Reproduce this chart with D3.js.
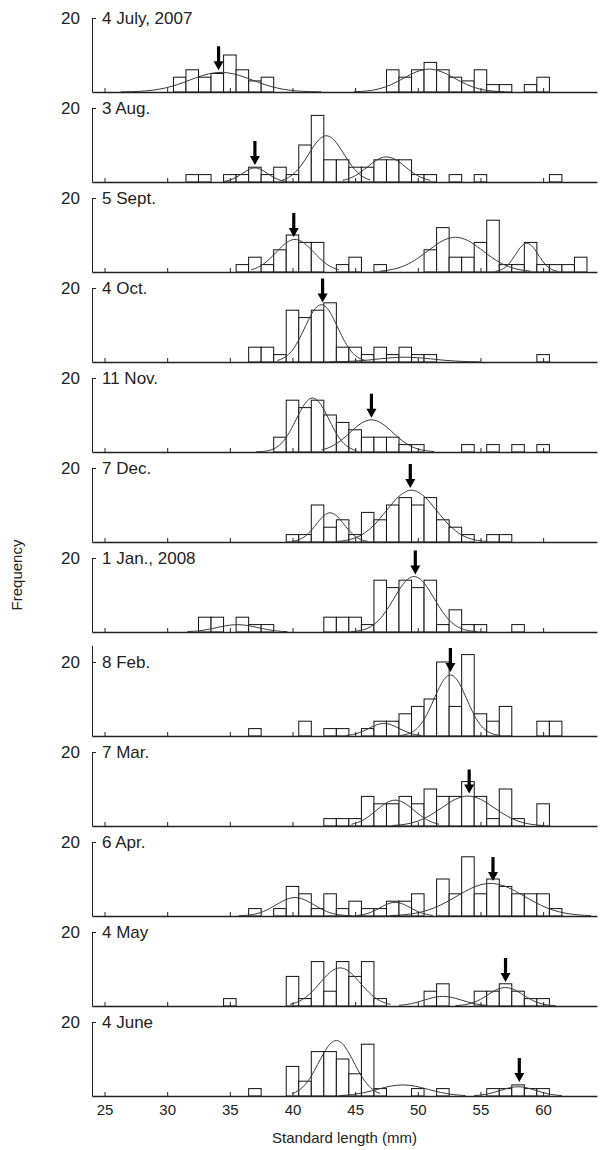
<!DOCTYPE html>
<html>
<head>
<meta charset="utf-8">
<script src="https://cdn.jsdelivr.net/npm/d3@7"></script>
<style>
  body { margin: 0; background: #fff; }
  svg text { font-family: "Liberation Sans", Arial, sans-serif; fill: #222; }
</style>
</head>
<body>
<svg id="chart" width="603" height="1150"></svg>
<script>
const sampleDates = ['4 July, 2007', '3 Aug.', '5 Sept.', '4 Oct.', '11 Nov.', '7 Dec.',
  '1 Jan., 2008', '8 Feb.', '7 Mar.', '6 Apr.', '4 May', '4 June'];

const xTicks = [25, 30, 35, 40, 45, 50, 55, 60];

// [standard length class (mm), number of fish]
const barsJul = [[31,4],[32,6],[33,4],[34,5],[35,10],[36,6],[37,3],[38,4],[48,6],[49,4],[50,6],[51,8],[52,6],[53,4],[54,3],[55,6],[56,2],[57,2],[59,2],[60,4]];
const barsAug = [[32,2],[33,2],[35,2],[36,2],[37,4],[38,2],[39,4],[40,2],[41,10],[42,18],[43,6],[44,6],[45,4],[46,4],[47,6],[48,6],[49,6],[50,2],[51,2],[53,2],[55,2],[61,2]];
const barsSep = [[36,2],[37,4],[38,2],[39,6],[40,10],[41,8],[42,8],[44,2],[45,4],[47,2],[51,6],[52,12],[53,4],[54,4],[55,8],[56,14],[57,2],[58,2],[59,8],[60,2],[61,2],[62,2],[63,4]];
const barsOct = [[37,4],[38,4],[39,2],[40,14],[41,12],[42,14],[43,16],[44,4],[45,4],[46,2],[47,4],[48,2],[49,4],[50,2],[51,2],[60,2]];
const barsNov = [[39,4],[40,14],[41,12],[42,14],[43,10],[44,8],[45,6],[46,4],[47,4],[48,4],[49,2],[50,2],[54,2],[56,2],[58,2],[60,2]];
const barsDec = [[40,2],[41,2],[42,10],[43,4],[44,6],[45,2],[46,8],[47,6],[48,10],[49,12],[50,10],[51,12],[52,6],[53,4],[54,2],[56,2],[57,2]];
const barsJan = [[33,4],[34,4],[36,4],[37,2],[38,2],[43,4],[44,4],[45,4],[46,2],[47,14],[48,12],[49,14],[50,12],[51,14],[52,2],[53,6],[54,2],[55,2],[58,2]];
const barsFeb = [[37,2],[41,4],[43,2],[44,2],[46,2],[47,4],[48,4],[49,6],[50,8],[51,10],[52,20],[53,8],[54,22],[55,6],[56,4],[57,8],[60,4],[61,4]];
const barsMar = [[43,2],[44,2],[45,2],[46,8],[47,6],[48,6],[49,8],[50,6],[51,10],[52,8],[53,8],[54,12],[55,8],[56,2],[57,10],[58,2],[60,6]];
const barsApr = [[37,2],[39,2],[40,8],[41,6],[42,2],[43,6],[44,2],[45,4],[46,2],[47,2],[48,4],[49,4],[50,6],[52,10],[53,6],[54,16],[55,6],[56,10],[57,8],[58,6],[59,6],[60,6],[61,2]];
const barsMay = [[35,2],[40,8],[41,2],[42,12],[43,4],[44,12],[45,8],[46,12],[47,2],[51,4],[52,6],[55,4],[56,4],[57,6],[58,4],[59,2],[60,2]];
const barsJun = [[37,2],[40,8],[41,4],[42,12],[43,12],[44,10],[45,6],[46,14],[47,2],[50,2],[52,2],[56,2],[57,2],[58,3],[59,2],[60,2]];

// fitted cohort curves: first length (mm), step (mm), heights
const fitsJul = [
  { from: 26.3, step: 1, y: [0.03,0.11,0.3,0.72,1.47,2.58,3.85,4.9,5.3,4.9,3.85,2.58,1.47,0.72,0.3,0.11,0.03] },
  { from: 44.9, step: 1, y: [0.07,0.27,0.84,2.02,3.78,5.46,6.2,5.46,3.78,2.02,0.84,0.27,0.07] }
];
const fitsAug = [
  { from: 34.5, step: 0.5, y: [0.17,0.51,1.24,2.31,3.35,3.8,3.35,2.31,1.24,0.51,0.17] },
  { from: 39.2, step: 0.5, y: [0.55,1.26,2.54,4.5,7.04,9.69,11.73,12.5,11.73,9.69,7.04,4.5,2.54,1.26,0.55] },
  { from: 44, step: 0.5, y: [0.45,0.92,1.69,2.79,4.13,5.44,6.43,6.8,6.43,5.44,4.13,2.79,1.69,0.92,0.45] }
];
const fitsSep = [
  { from: 36.7, step: 0.5, y: [0.58,1.19,2.19,3.62,5.34,7.04,8.32,8.8,8.32,7.04,5.34,3.62,2.19,1.19,0.58] },
  { from: 47, step: 1, y: [0.23,0.71,1.8,3.71,6.22,8.48,9.4,8.48,6.22,3.71,1.8,0.71,0.23] },
  { from: 56.2, step: 0.5, y: [0.16,0.66,1.94,4.2,6.68,7.8,6.68,4.2,1.94,0.66,0.16] }
];
const fitsOct = [
  { from: 38.8, step: 0.5, y: [0.42,1.09,2.43,4.74,7.97,11.53,14.4,15.5,14.4,11.53,7.97,4.74,2.43,1.09,0.42] },
  { from: 43, step: 1, y: [0.03,0.1,0.25,0.51,0.86,1.17,1.3,1.17,0.86,0.51,0.25,0.1,0.03] }
];
const fitsNov = [
  { from: 37.1, step: 0.5, y: [0.04,0.13,0.39,1.02,2.29,4.47,7.5,10.86,13.56,14.6,13.56,10.86,7.5,4.47,2.29,1.02,0.39] },
  { from: 42.3, step: 0.5, y: [0.55,1.04,1.84,2.95,4.36,5.9,7.32,8.33,8.7,8.33,7.32,5.9,4.36,2.95,1.84,1.04,0.55,0.26,0.12] }
];
const fitsDec = [
  { from: 40, step: 0.5, y: [0.19,0.6,1.52,3.12,5.23,7.13,7.9,7.13,5.23,3.12,1.52,0.6,0.19] },
  { from: 43.5, step: 1, y: [0.15,0.61,1.89,4.55,8.49,12.35,14,12.35,8.49,4.55,1.89,0.61,0.15] }
];
const fitsJan = [
  { from: 31.6, step: 1, y: [0.09,0.34,0.92,1.65,2,1.65,0.92,0.34,0.09] },
  { from: 44.7, step: 0.5, y: [0.11,0.29,0.66,1.37,2.58,4.43,6.87,9.66,12.35,14.28,15,14.28,12.35,9.66,6.87,4.43,2.58,1.37,0.66,0.29,0.11] }
];
const fitsFeb = [
  { from: 44.3, step: 0.5, y: [0.15,0.39,0.85,1.56,2.4,3.12,3.4,3.12,2.4,1.56,0.85,0.39,0.15] },
  { from: 48.6, step: 0.5, y: [0.15,0.45,1.16,2.59,5.05,8.48,12.28,15.33,16.5,15.33,12.28,8.48,5.05,2.59,1.16,0.45,0.15] }
];
const fitsMar = [
  { from: 44.7, step: 0.5, y: [0.46,0.95,1.74,2.88,4.25,5.6,6.62,7,6.62,5.6,4.25,2.88,1.74,0.95,0.46] },
  { from: 48, step: 1, y: [0.14,0.48,1.32,2.92,5.14,7.23,8.1,7.23,5.14,2.92,1.32,0.48,0.14] }
];
const fitsApr = [
  { from: 35.7, step: 0.5, y: [0.06,0.15,0.33,0.68,1.25,2.06,3.04,4,4.73,5,4.73,4,3.04,2.06,1.25,0.68,0.33,0.15,0.06] },
  { from: 45.2, step: 0.5, y: [0.16,0.42,0.92,1.69,2.62,3.39,3.7,3.39,2.62,1.69,0.92,0.42,0.16] },
  { from: 47.8, step: 1, y: [0.11,0.31,0.75,1.58,2.94,4.74,6.69,8.22,8.8,8.22,6.69,4.74,2.94,1.58,0.75,0.31,0.11] }
];
const fitsMay = [
  { from: 39.8, step: 0.5, y: [0.45,0.94,1.77,3.04,4.72,6.63,8.48,9.81,10.3,9.81,8.48,6.63,4.72,3.04,1.77,0.94,0.45] },
  { from: 48.5, step: 0.5, y: [0.17,0.35,0.65,1.07,1.58,2.08,2.46,2.6,2.46,2.08,1.58,1.07,0.65,0.35,0.17] },
  { from: 53, step: 0.5, y: [0.09,0.22,0.51,1.02,1.8,2.82,3.88,4.69,5,4.69,3.88,2.82,1.8,1.02,0.51,0.22,0.09] }
];
const fitsJun = [
  { from: 40, step: 0.5, y: [0.66,1.52,3.05,5.4,8.45,11.63,14.07,15,14.07,11.63,8.45,5.4,3.05,1.52,0.66] },
  { from: 43.8, step: 1, y: [0.13,0.4,0.98,1.82,2.65,3,2.65,1.82,0.98,0.4,0.13] },
  { from: 54.5, step: 0.5, y: [0.11,0.25,0.51,0.9,1.41,1.94,2.35,2.5,2.35,1.94,1.41,0.9,0.51,0.25,0.11] }
];

// arrowed cohort: length (mm) and height of the arrow tip
const arrowLength = [34.1, 37, 40.1, 42.4, 46.3, 49.4, 49.8, 52.6, 54.1, 56, 57, 58.1];
const arrowHeight = [5.6, 4.3, 9.2, 15.8, 9, 14.3, 15.3, 17, 8.5, 9.2, 6.2, 3.5];

// top of each frequency axis
const panelYMax = [20, 20, 20, 20, 20, 20, 20, 24.5, 20, 20, 20, 20];

const panelBars = [barsJul, barsAug, barsSep, barsOct, barsNov, barsDec, barsJan, barsFeb, barsMar, barsApr, barsMay, barsJun];
const panelFits = [fitsJul, fitsAug, fitsSep, fitsOct, fitsNov, fitsDec, fitsJan, fitsFeb, fitsMar, fitsApr, fitsMay, fitsJun];

const PANEL_H = 74;     // height of 0..20
const FIRST_TOP = 18;
const PANEL_STEP = 90;
const FEB_GAP = 14;

const svg = d3.select('#chart');
const x = d3.scaleLinear().domain([24, 64.3]).range([92, 597]);

sampleDates.forEach((label, i) => {
  const top = FIRST_TOP + i * PANEL_STEP + (i >= 7 ? FEB_GAP : 0);
  const base = top + PANEL_H;
  const yMax = panelYMax[i];
  const y = d3.scaleLinear().domain([0, yMax]).range([base, base - PANEL_H * yMax / 20]);

  const g = svg.append('g');

  // histogram
  g.selectAll('rect').data(panelBars[i]).join('rect')
    .attr('x', d => x(d[0] - 0.5))
    .attr('width', d => x(d[0] + 0.5) - x(d[0] - 0.5))
    .attr('y', d => y(d[1]))
    .attr('height', d => base - y(d[1]))
    .attr('fill', '#fff')
    .attr('stroke', '#111')
    .attr('stroke-width', 1);

  // fitted curves
  const line = d3.line()
    .x(d => x(d[0]))
    .y(d => y(d[1]))
    .curve(d3.curveMonotoneX);

  panelFits[i].forEach(f => {
    const pts = f.y.map((v, k) => [f.from + k * f.step, v]);
    g.append('path')
      .datum(pts)
      .attr('fill', 'none')
      .attr('stroke', '#3a3a3a')
      .attr('stroke-width', 1)
      .attr('d', line);
  });

  // x axis with inward ticks
  g.append('g')
    .attr('transform', `translate(0,${base})`)
    .call(d3.axisTop(x).tickValues(xTicks).tickSize(4).tickSizeOuter(0).tickFormat(''))
    .call(a => a.select('.domain').attr('stroke', '#222').attr('stroke-width', 1.3))
    .call(a => a.selectAll('.tick line').attr('stroke', '#222'));

  // y axis, only the 20 tick
  g.append('g')
    .attr('transform', `translate(${x(24)},0)`)
    .call(d3.axisRight(y).tickValues([20]).tickSize(4).tickSizeOuter(0).tickFormat(''))
    .call(a => a.select('.domain').attr('stroke', '#222'))
    .call(a => a.selectAll('.tick line').attr('stroke', '#222'));

  g.append('text')
    .attr('x', x(24) - 12)
    .attr('y', y(20) + 6)
    .attr('text-anchor', 'end')
    .attr('font-size', '17px')
    .text('20');

  g.append('text')
    .attr('x', x(24) + 10)
    .attr('y', y(20) + 6)
    .attr('font-size', '17px')
    .text(label);

  // arrow
  const ax = x(arrowLength[i]);
  const ay = y(arrowHeight[i]) - 1;
  g.append('path')
    .attr('d', `M${ax - 1.6},${ay - 24} L${ax + 1.6},${ay - 24} L${ax + 1.6},${ay - 9} L${ax + 5},${ay - 9} L${ax},${ay} L${ax - 5},${ay - 9} L${ax - 1.6},${ay - 9} Z`)
    .attr('fill', '#000');

  // tick labels on the bottom panel
  if (i === sampleDates.length - 1) {
    const lab = g.append('g')
      .attr('transform', `translate(0,${base})`)
      .call(d3.axisBottom(x).tickValues(xTicks).tickSize(0).tickPadding(8));
    lab.select('.domain').remove();
    lab.selectAll('text')
      .attr('font-size', '15px')
      .attr('font-family', '"Liberation Sans", Arial, sans-serif')
      .attr('fill', '#222');

    svg.append('text')
      .attr('x', (x(24) + x(64.3)) / 2)
      .attr('y', base + 47)
      .attr('text-anchor', 'middle')
      .attr('font-size', '15px')
      .text('Standard length (mm)');
  }
});

svg.append('text')
  .attr('transform', 'translate(22,575) rotate(-90)')
  .attr('text-anchor', 'middle')
  .attr('font-size', '15px')
  .text('Frequency');
</script>
</body>
</html>
